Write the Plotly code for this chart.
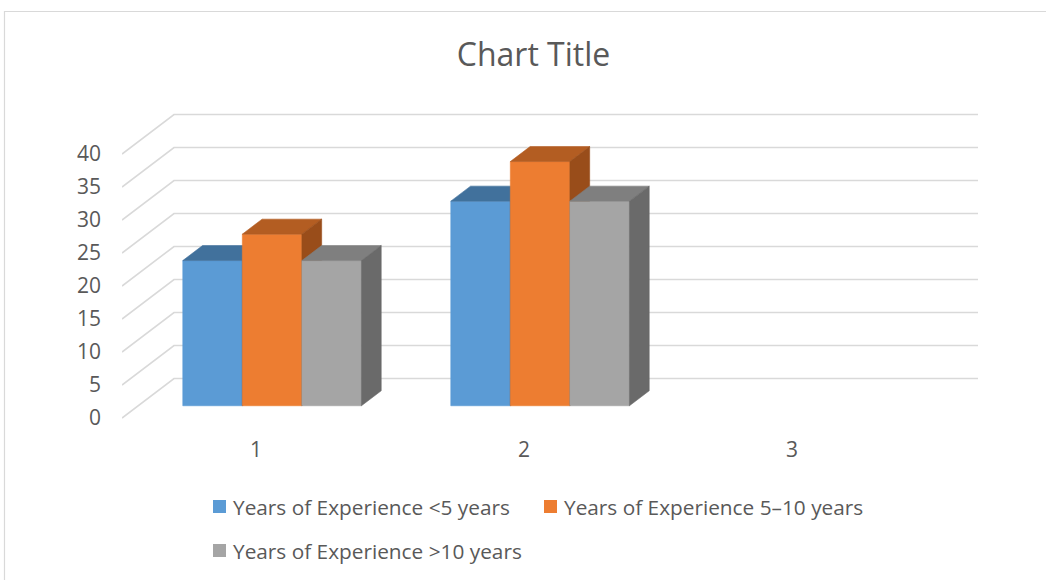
import plotly.graph_objects as go

# ---- data -------------------------------------------------------------
categories = ["1", "2", "3"]
series_names = [
    "Years of Experience <5 years",
    "Years of Experience 5–10 years",
    "Years of Experience >10 years",
]
under_5 = [22, 31, None]
from_5_to_10 = [26, 37, None]
over_10 = [22, 31, None]
y_ticks = [0, 5, 10, 15, 20, 25, 30, 35, 40]

series_values = [under_5, from_5_to_10, over_10]

# ---- styling ----------------------------------------------------------
front_colors = ["#5B9BD5", "#ED7D31", "#A5A5A5"]
top_colors = ["#41719C", "#B35D22", "#7F7F7F"]
side_colors = ["#3A6690", "#994D1A", "#6A6A6A"]
grid_color = "#D9D9D9"
text_color = "#595959"
FONT = "Open Sans"

# ---- page geometry (pixels) ------------------------------------------
W, H = 1046, 580
PLOT_L, PLOT_R = 122, 978
PLOT_T, PLOT_B = 100, 424
PX_PER_CAT = 268          # width of one category slot on the front plane
PX_PER_UNIT = 6.6         # vertical pixels per value unit
Y_ZERO_PX = 418           # value 0 on the front plane
DEPTH_DX_PX = 52          # oblique shift from front plane to back wall
DEPTH_DY_PX = 39.5

# depth shift expressed in axis units
DX = DEPTH_DX_PX / PX_PER_CAT
DY = DEPTH_DY_PX / PX_PER_UNIT

x_range = [0.5, 0.5 + (PLOT_R - PLOT_L) / PX_PER_CAT]
y_range = [(Y_ZERO_PX - PLOT_B) / PX_PER_UNIT, (Y_ZERO_PX - PLOT_T) / PX_PER_UNIT]

n_series = len(series_values)
gap_width = 1.5
bar_w = 1.0 / (n_series + gap_width)
d_front, d_back = 0.31, 0.69  # bar depth inside the floor (0 = front, 1 = back)
dd = d_back - d_front

fig = go.Figure()

# ---- side wall and back wall gridlines -------------------------------
gx, gy = [], []
n_cat = len(categories)
for v in y_ticks:
    gx += [0.5, 0.5 + DX, n_cat + 0.5 + DX, None]
    gy += [v, v + DY, v + DY, None]
fig.add_trace(go.Scatter(x=gx, y=gy, mode="lines",
                         line=dict(color=grid_color, width=1.6),
                         hoverinfo="skip", showlegend=False))

# ---- 3-D columns: front, top and right side faces --------------------
for i, (name, vals) in enumerate(zip(series_names, series_values)):
    fx, fy, tx, ty, sx, sy = [], [], [], [], [], []
    for c, v in enumerate(vals, start=1):
        if v is None:
            continue
        xl = c - (n_series * bar_w) / 2 + i * bar_w + DX * d_front
        xr = xl + bar_w
        y0 = DY * d_front
        yt = y0 + v
        ox, oy = DX * dd, DY * dd
        fx += [xl, xr, xr, xl, xl, None]
        fy += [y0, y0, yt, yt, y0, None]
        tx += [xl, xr, xr + ox, xl + ox, xl, None]
        ty += [yt, yt, yt + oy, yt + oy, yt, None]
        sx += [xr, xr + ox, xr + ox, xr, xr, None]
        sy += [y0, y0 + oy, yt + oy, yt, y0, None]
    for px_, py_, col, part in ((fx, fy, front_colors[i], "front"),
                                (tx, ty, top_colors[i], "top"),
                                (sx, sy, side_colors[i], "side")):
        fig.add_trace(go.Scatter(
            x=px_, y=py_, mode="lines", fill="toself", fillcolor=col,
            line=dict(color=col, width=0.6), name=name,
            legendgroup=name, showlegend=False, hoverinfo="skip"))

# ---- legend drawn as swatches + labels --------------------------------
def paper_x(px):
    return (px - PLOT_L) / (PLOT_R - PLOT_L)


def paper_y(py):
    return (PLOT_B - py) / (PLOT_B - PLOT_T)


legend_slots = [(213, 506.5), (544, 506.5), (213, 550.5)]
SW = 13
shapes = []
annotations = []
for (lx, ly), name, col in zip(legend_slots, series_names, front_colors):
    shapes.append(dict(type="rect", xref="paper", yref="paper",
                       x0=paper_x(lx), x1=paper_x(lx + SW),
                       y0=paper_y(ly + SW / 2), y1=paper_y(ly - SW / 2),
                       fillcolor=col, line=dict(width=0)))
    annotations.append(dict(xref="paper", yref="paper",
                            x=paper_x(lx + 18), y=paper_y(ly),
                            xanchor="left", yanchor="middle",
                            text=name, showarrow=False,
                            font=dict(family=FONT, size=20.8, color=text_color)))

# chart-area border
shapes.append(dict(type="rect", xref="paper", yref="paper",
                   x0=paper_x(4.5), x1=paper_x(1070),
                   y0=paper_y(620), y1=paper_y(11.5),
                   line=dict(color="#D9D9D9", width=1.2), fillcolor="rgba(0,0,0,0)",
                   layer="below"))

fig.update_layout(
    width=W, height=H,
    margin=dict(l=PLOT_L, r=W - PLOT_R, t=PLOT_T, b=H - PLOT_B),
    paper_bgcolor="white", plot_bgcolor="white",
    title=dict(text="Chart Title", x=533.5 / W, xref="container", xanchor="center",
               y=1 - 55 / H, yref="container", yanchor="middle",
               font=dict(family=FONT, size=32, color=text_color)),
    xaxis=dict(range=x_range, tickmode="array", tickvals=[1, 2, 3], ticktext=categories,
               showgrid=False, zeroline=False, showline=False, ticks="",
               ticklabelstandoff=11,
               tickfont=dict(family=FONT, size=21, color=text_color), fixedrange=True),
    yaxis=dict(range=y_range, tickmode="array", tickvals=y_ticks,
               showgrid=False, zeroline=False, showline=False, ticks="",
               ticklabelstandoff=20,
               tickfont=dict(family=FONT, size=21, color=text_color), fixedrange=True),
    shapes=shapes, annotations=annotations, showlegend=False,
)

fig.write_html("out.html")
